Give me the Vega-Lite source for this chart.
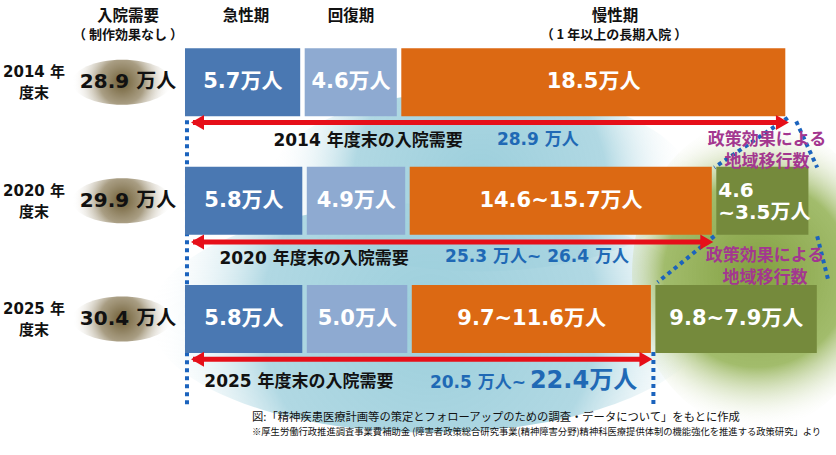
{
  "$schema": "https://vega.github.io/schema/vega-lite/v6.json",
  "width": 836,
  "height": 455,
  "autosize": {"type": "none"},
  "padding": 0,
  "background": "white",
  "config": {"view": {"stroke": null}, "text": {"font": "DejaVu Sans, Noto Sans CJK JP", "fontWeight": "bold"}},
  "datasets": {
    "bars": [
      {"year": "2014", "row": 0, "phase": "急性期", "start": 0, "end": 5.7, "label": "5.7万人"},
      {"year": "2014", "row": 0, "phase": "回復期", "start": 5.7, "end": 10.3, "label": "4.6万人"},
      {"year": "2014", "row": 0, "phase": "慢性期", "start": 10.3, "end": 28.8, "label": "18.5万人"},
      {"year": "2020", "row": 1, "phase": "急性期", "start": 0, "end": 5.8, "label": "5.8万人"},
      {"year": "2020", "row": 1, "phase": "回復期", "start": 5.8, "end": 10.7, "label": "4.9万人"},
      {"year": "2020", "row": 1, "phase": "慢性期", "start": 10.7, "end": 25.3, "label": "14.6~15.7万人"},
      {"year": "2020", "row": 1, "phase": "地域移行数", "start": 25.3, "end": 29.9, "label": "4.6\n~3.5万人"},
      {"year": "2025", "row": 2, "phase": "急性期", "start": 0, "end": 5.8, "label": "5.8万人"},
      {"year": "2025", "row": 2, "phase": "回復期", "start": 5.8, "end": 10.8, "label": "5.0万人"},
      {"year": "2025", "row": 2, "phase": "慢性期", "start": 10.8, "end": 22.4, "label": "9.7~11.6万人"},
      {"year": "2025", "row": 2, "phase": "地域移行数", "start": 22.4, "end": 30.3, "label": "9.8~7.9万人"}
    ],
    "years": [
      {"year": "2014", "row": 0, "label": "2014 年\n度末", "total": "28.9 万人"},
      {"year": "2020", "row": 1, "label": "2020 年\n度末", "total": "29.9 万人"},
      {"year": "2025", "row": 2, "label": "2025 年\n度末", "total": "30.4 万人"}
    ],
    "arrows": [
      {"year": "2014", "y": 0.34, "start": 0, "end": 28.9},
      {"year": "2020", "y": 1.35, "start": 0, "end": 25.3},
      {"year": "2025", "y": 2.34, "start": 0, "end": 22.4}
    ],
    "glows": [
      {"glow": "haze-upper", "x": 14.14, "y": 0.835},
      {"glow": "haze-lower", "x": 11.76, "y": 1.99},
      {"glow": "green", "x": 27.33, "y": 1.62}
    ],
    "dots": [
      {"seg": "left", "ord": 0, "x": 0.19, "y": 0.32},
      {"seg": "left", "ord": 1, "x": 0.19, "y": 2.72},
      {"seg": "mid", "ord": 0, "x": 22.4, "y": 2.28},
      {"seg": "mid", "ord": 1, "x": 22.4, "y": 2.72},
      {"seg": "a", "ord": 0, "x": 28.8, "y": 0.3},
      {"seg": "a", "ord": 1, "x": 25.3, "y": 0.72},
      {"seg": "b", "ord": 0, "x": 29.2, "y": 0.33},
      {"seg": "b", "ord": 1, "x": 30.2, "y": 0.72},
      {"seg": "c", "ord": 0, "x": 25.3, "y": 1.3},
      {"seg": "c", "ord": 1, "x": 22.6, "y": 1.69},
      {"seg": "d", "ord": 0, "x": 30.2, "y": 1.3},
      {"seg": "d", "ord": 1, "x": 30.75, "y": 1.69}
    ],
    "headers": [
      {"text": "入院需要", "x": -2.619, "y": -0.562, "role": "main"},
      {"text": "（ 制作効果なし ）", "x": -2.619, "y": -0.397, "role": "sub"},
      {"text": "急性期", "x": 3.0, "y": -0.562, "role": "main"},
      {"text": "回復期", "x": 8.0, "y": -0.562, "role": "main"},
      {"text": "慢性期", "x": 20.57, "y": -0.562, "role": "main"},
      {"text": "（ 1 年以上の長期入院 ）", "x": 20.52, "y": -0.397, "role": "sub"}
    ],
    "demand": [
      {"text": "2014 年度末の入院需要", "x": 8.81, "y": 0.496, "role": "caption"},
      {"text": "28.9 万人", "x": 16.9, "y": 0.488, "role": "value"},
      {"text": "2020 年度末の入院需要", "x": 6.24, "y": 1.496, "role": "caption"},
      {"text": "25.3 万人~ 26.4 万人", "x": 16.86, "y": 1.48, "role": "value"},
      {"text": "2025 年度末の入院需要", "x": 5.52, "y": 2.529, "role": "caption"},
      {"text": "20.5 万人~", "x": 11.76, "y": 2.587, "role": "valueLeft"},
      {"text": "22.4万人", "x": 16.52, "y": 2.587, "role": "valueBig"}
    ],
    "policy": [
      {"text": "政策効果による\n地域移行数", "x": 27.81, "y": 0.488},
      {"text": "政策効果による\n地域移行数", "x": 27.71, "y": 1.471}
    ],
    "footnotes": [
      {"text": "図:「精神疾患医療計画等の策定とフォローアップのための調査・データについて」をもとに作成", "x": 3.286, "y": 2.835, "role": "source"},
      {"text": "※厚生労働行政推進調査事業費補助金 (障害者政策総合研究事業(精神障害分野)精神科医療提供体制の機能強化を推進する政策研究」より", "x": 3.286, "y": 2.959, "role": "note"}
    ]
  },
  "layer": [
    {
      "data": {"name": "glows"},
      "transform": [{"filter": "datum.glow === 'haze-upper'"}],
      "mark": {"type": "point", "clip": true, "shape": "M -1 0 A 1 0.43 0 1 0 1 0 A 1 0.43 0 1 0 -1 0 Z", "size": 176400, "filled": true, "opacity": 1, "strokeWidth": 0,
        "fill": {"gradient": "radial", "x1": 0.5, "y1": 0.5, "r1": 0, "x2": 0.5, "y2": 0.5, "r2": 0.5,
          "stops": [{"offset": 0, "color": "#9ccfdc"}, {"offset": 0.6, "color": "rgba(168,212,224,0.9)"}, {"offset": 1, "color": "rgba(255,255,255,0)"}]}},
      "encoding": {
        "x": {"field": "x", "type": "quantitative", "scale": {"domain": [-8.714, 31.095], "nice": false, "zero": false}, "axis": null},
        "y": {"field": "y", "type": "quantitative", "scale": {"domain": [-0.653, 3.107], "nice": false, "zero": false, "reverse": true}, "axis": null}
      }
    },
    {
      "data": {"name": "glows"},
      "transform": [{"filter": "datum.glow === 'haze-lower'"}],
      "mark": {"type": "point", "clip": true, "shape": "M -1 0 A 1 0.41 0 1 0 1 0 A 1 0.41 0 1 0 -1 0 Z", "size": 313600, "filled": true, "opacity": 1, "strokeWidth": 0,
        "fill": {"gradient": "radial", "x1": 0.5, "y1": 0.5, "r1": 0, "x2": 0.5, "y2": 0.5, "r2": 0.5,
          "stops": [{"offset": 0, "color": "#9ccfdc"}, {"offset": 0.6, "color": "rgba(168,212,224,0.9)"}, {"offset": 1, "color": "rgba(255,255,255,0)"}]}},
      "encoding": {
        "x": {"field": "x", "type": "quantitative", "scale": {"domain": [-8.714, 31.095], "nice": false, "zero": false}, "axis": null},
        "y": {"field": "y", "type": "quantitative", "scale": {"domain": [-0.653, 3.107], "nice": false, "zero": false, "reverse": true}, "axis": null}
      }
    },
    {
      "data": {"name": "glows"},
      "transform": [{"filter": "datum.glow === 'green'"}],
      "mark": {"type": "point", "clip": true, "shape": "M -0.806 0 A 0.806 1 0 1 0 0.806 0 A 0.806 1 0 1 0 -0.806 0 Z", "size": 96100, "filled": true, "opacity": 1, "strokeWidth": 0,
        "fill": {"gradient": "radial", "x1": 0.5, "y1": 0.5, "r1": 0, "x2": 0.5, "y2": 0.5, "r2": 0.5,
          "stops": [{"offset": 0, "color": "#829f40"}, {"offset": 0.6, "color": "rgba(152,181,92,0.9)"}, {"offset": 1, "color": "rgba(255,255,255,0)"}]}},
      "encoding": {
        "x": {"field": "x", "type": "quantitative", "scale": {"domain": [-8.714, 31.095], "nice": false, "zero": false}, "axis": null},
        "y": {"field": "y", "type": "quantitative", "scale": {"domain": [-0.653, 3.107], "nice": false, "zero": false, "reverse": true}, "axis": null}
      }
    },
    {
      "data": {"name": "years"},
      "mark": {"type": "point", "clip": true, "shape": "M -1 0 A 1 0.45 0 1 0 1 0 A 1 0.45 0 1 0 -1 0 Z", "size": 10000, "filled": true, "opacity": 1, "strokeWidth": 0,
        "fill": {"gradient": "radial", "x1": 0.5, "y1": 0.5, "r1": 0, "x2": 0.5, "y2": 0.5, "r2": 0.5,
          "stops": [{"offset": 0, "color": "#6f5e35"}, {"offset": 0.45, "color": "rgba(140,125,90,0.75)"}, {"offset": 1, "color": "rgba(255,255,255,0)"}]}},
      "encoding": {
        "x": {"datum": -2.9, "type": "quantitative", "scale": {"domain": [-8.714, 31.095], "nice": false, "zero": false}, "axis": null},
        "y": {"field": "row", "type": "quantitative", "scale": {"domain": [-0.653, 3.107], "nice": false, "zero": false, "reverse": true}, "axis": null}
      }
    },
    {
      "data": {"name": "dots"},
      "mark": {"type": "line", "strokeDash": [4, 4], "strokeWidth": 4, "color": "#1b63bd", "strokeCap": "butt"},
      "encoding": {
        "x": {"field": "x", "type": "quantitative", "scale": {"domain": [-8.714, 31.095], "nice": false, "zero": false}, "axis": null},
        "y": {"field": "y", "type": "quantitative", "scale": {"domain": [-0.653, 3.107], "nice": false, "zero": false, "reverse": true}, "axis": null},
        "detail": {"field": "seg", "type": "nominal"},
        "order": {"field": "ord", "type": "quantitative"}
      }
    },
    {
      "data": {"name": "bars"},
      "mark": {"type": "bar", "size": 68, "xOffset": 2, "x2Offset": -2.5},
      "encoding": {
        "x": {"field": "start", "type": "quantitative", "scale": {"domain": [-8.714, 31.095], "nice": false, "zero": false}, "axis": null},
        "x2": {"field": "end"},
        "y": {"field": "row", "type": "quantitative", "scale": {"domain": [-0.653, 3.107], "nice": false, "zero": false, "reverse": true}, "axis": null},
        "color": {"field": "phase", "type": "nominal", "scale": {"domain": ["急性期", "回復期", "慢性期", "地域移行数"], "range": ["#4a78b2", "#8eaad1", "#dc6913", "#758a3c"]}, "legend": null}
      }
    },
    {
      "data": {"name": "bars"},
      "transform": [
        {"filter": "!(datum.year === '2020' && datum.phase === '地域移行数')"},
        {"fold": ["start", "end"], "as": ["edge", "pos"]},
        {"aggregate": [{"op": "mean", "field": "pos", "as": "mid"}], "groupby": ["year", "row", "phase", "label"]}
      ],
      "mark": {"type": "text", "color": "white", "fontSize": 21, "align": "center", "baseline": "middle"},
      "encoding": {
        "x": {"field": "mid", "type": "quantitative", "scale": {"domain": [-8.714, 31.095], "nice": false, "zero": false}, "axis": null},
        "y": {"field": "row", "type": "quantitative", "scale": {"domain": [-0.653, 3.107], "nice": false, "zero": false, "reverse": true}, "axis": null},
        "text": {"field": "label"}
      }
    },
    {
      "data": {"name": "bars"},
      "transform": [{"filter": "datum.year === '2020' && datum.phase === '地域移行数'"}],
      "mark": {"type": "text", "color": "white", "fontSize": 20, "align": "left", "baseline": "middle", "lineBreak": "\n", "lineHeight": 22, "dx": 4, "dy": -10},
      "encoding": {
        "x": {"field": "start", "type": "quantitative", "scale": {"domain": [-8.714, 31.095], "nice": false, "zero": false}, "axis": null},
        "y": {"field": "row", "type": "quantitative", "scale": {"domain": [-0.653, 3.107], "nice": false, "zero": false, "reverse": true}, "axis": null},
        "text": {"field": "label"}
      }
    },
    {
      "data": {"name": "arrows"},
      "mark": {"type": "rule", "color": "#e60f19", "strokeWidth": 5, "xOffset": 10, "x2Offset": -8},
      "encoding": {
        "x": {"field": "start", "type": "quantitative", "scale": {"domain": [-8.714, 31.095], "nice": false, "zero": false}, "axis": null},
        "x2": {"field": "end"},
        "y": {"field": "y", "type": "quantitative", "scale": {"domain": [-0.653, 3.107], "nice": false, "zero": false, "reverse": true}, "axis": null}
      }
    },
    {
      "data": {"name": "arrows"},
      "mark": {"type": "point", "shape": "triangle-left", "size": 225, "filled": true, "opacity": 1, "color": "#e60f19", "strokeWidth": 0, "xOffset": 14.5},
      "encoding": {
        "x": {"field": "start", "type": "quantitative", "scale": {"domain": [-8.714, 31.095], "nice": false, "zero": false}, "axis": null},
        "y": {"field": "y", "type": "quantitative", "scale": {"domain": [-0.653, 3.107], "nice": false, "zero": false, "reverse": true}, "axis": null}
      }
    },
    {
      "data": {"name": "arrows"},
      "mark": {"type": "point", "shape": "triangle-right", "size": 225, "filled": true, "opacity": 1, "color": "#e60f19", "strokeWidth": 0, "xOffset": -7.5},
      "encoding": {
        "x": {"field": "end", "type": "quantitative", "scale": {"domain": [-8.714, 31.095], "nice": false, "zero": false}, "axis": null},
        "y": {"field": "y", "type": "quantitative", "scale": {"domain": [-0.653, 3.107], "nice": false, "zero": false, "reverse": true}, "axis": null}
      }
    },
    {
      "data": {"name": "years"},
      "mark": {"type": "text", "color": "#111111", "fontSize": 15, "align": "center", "baseline": "middle", "lineBreak": "\n", "lineHeight": 21, "dy": -10},
      "encoding": {
        "x": {"datum": -7.095, "type": "quantitative", "scale": {"domain": [-8.714, 31.095], "nice": false, "zero": false}, "axis": null},
        "y": {"field": "row", "type": "quantitative", "scale": {"domain": [-0.653, 3.107], "nice": false, "zero": false, "reverse": true}, "axis": null},
        "text": {"field": "label"}
      }
    },
    {
      "data": {"name": "years"},
      "mark": {"type": "text", "color": "#111111", "fontSize": 20, "align": "center", "baseline": "middle"},
      "encoding": {
        "x": {"datum": -2.619, "type": "quantitative", "scale": {"domain": [-8.714, 31.095], "nice": false, "zero": false}, "axis": null},
        "y": {"field": "row", "type": "quantitative", "scale": {"domain": [-0.653, 3.107], "nice": false, "zero": false, "reverse": true}, "axis": null},
        "text": {"field": "total"}
      }
    },
    {
      "data": {"name": "headers"},
      "transform": [{"filter": "datum.role === 'main'"}],
      "mark": {"type": "text", "color": "#111111", "fontSize": 15.5, "font": "Noto Sans CJK JP", "align": "center", "baseline": "middle"},
      "encoding": {
        "x": {"field": "x", "type": "quantitative", "scale": {"domain": [-8.714, 31.095], "nice": false, "zero": false}, "axis": null},
        "y": {"field": "y", "type": "quantitative", "scale": {"domain": [-0.653, 3.107], "nice": false, "zero": false, "reverse": true}, "axis": null},
        "text": {"field": "text"}
      }
    },
    {
      "data": {"name": "headers"},
      "transform": [{"filter": "datum.role === 'sub'"}],
      "mark": {"type": "text", "color": "#111111", "fontSize": 13, "font": "Noto Sans CJK JP", "align": "center", "baseline": "middle"},
      "encoding": {
        "x": {"field": "x", "type": "quantitative", "scale": {"domain": [-8.714, 31.095], "nice": false, "zero": false}, "axis": null},
        "y": {"field": "y", "type": "quantitative", "scale": {"domain": [-0.653, 3.107], "nice": false, "zero": false, "reverse": true}, "axis": null},
        "text": {"field": "text"}
      }
    },
    {
      "data": {"name": "demand"},
      "transform": [{"filter": "datum.role === 'caption'"}],
      "mark": {"type": "text", "color": "#111111", "fontSize": 17, "align": "center", "baseline": "middle"},
      "encoding": {
        "x": {"field": "x", "type": "quantitative", "scale": {"domain": [-8.714, 31.095], "nice": false, "zero": false}, "axis": null},
        "y": {"field": "y", "type": "quantitative", "scale": {"domain": [-0.653, 3.107], "nice": false, "zero": false, "reverse": true}, "axis": null},
        "text": {"field": "text"}
      }
    },
    {
      "data": {"name": "demand"},
      "transform": [{"filter": "datum.role === 'value'"}],
      "mark": {"type": "text", "color": "#1f69b5", "fontSize": 17, "align": "center", "baseline": "middle"},
      "encoding": {
        "x": {"field": "x", "type": "quantitative", "scale": {"domain": [-8.714, 31.095], "nice": false, "zero": false}, "axis": null},
        "y": {"field": "y", "type": "quantitative", "scale": {"domain": [-0.653, 3.107], "nice": false, "zero": false, "reverse": true}, "axis": null},
        "text": {"field": "text"}
      }
    },
    {
      "data": {"name": "demand"},
      "transform": [{"filter": "datum.role === 'valueLeft'"}],
      "mark": {"type": "text", "color": "#1f69b5", "fontSize": 17, "align": "left", "baseline": "alphabetic"},
      "encoding": {
        "x": {"field": "x", "type": "quantitative", "scale": {"domain": [-8.714, 31.095], "nice": false, "zero": false}, "axis": null},
        "y": {"field": "y", "type": "quantitative", "scale": {"domain": [-0.653, 3.107], "nice": false, "zero": false, "reverse": true}, "axis": null},
        "text": {"field": "text"}
      }
    },
    {
      "data": {"name": "demand"},
      "transform": [{"filter": "datum.role === 'valueBig'"}],
      "mark": {"type": "text", "color": "#1f69b5", "fontSize": 24, "align": "left", "baseline": "alphabetic"},
      "encoding": {
        "x": {"field": "x", "type": "quantitative", "scale": {"domain": [-8.714, 31.095], "nice": false, "zero": false}, "axis": null},
        "y": {"field": "y", "type": "quantitative", "scale": {"domain": [-0.653, 3.107], "nice": false, "zero": false, "reverse": true}, "axis": null},
        "text": {"field": "text"}
      }
    },
    {
      "data": {"name": "policy"},
      "mark": {"type": "text", "color": "#a3378f", "fontSize": 17, "font": "Noto Sans CJK JP", "align": "center", "baseline": "middle", "lineBreak": "\n", "lineHeight": 22},
      "encoding": {
        "x": {"field": "x", "type": "quantitative", "scale": {"domain": [-8.714, 31.095], "nice": false, "zero": false}, "axis": null},
        "y": {"field": "y", "type": "quantitative", "scale": {"domain": [-0.653, 3.107], "nice": false, "zero": false, "reverse": true}, "axis": null},
        "text": {"field": "text"}
      }
    },
    {
      "data": {"name": "footnotes"},
      "transform": [{"filter": "datum.role === 'source'"}],
      "mark": {"type": "text", "color": "#111111", "fontSize": 11.3, "fontWeight": "normal", "font": "Noto Sans CJK JP", "align": "left", "baseline": "middle"},
      "encoding": {
        "x": {"field": "x", "type": "quantitative", "scale": {"domain": [-8.714, 31.095], "nice": false, "zero": false}, "axis": null},
        "y": {"field": "y", "type": "quantitative", "scale": {"domain": [-0.653, 3.107], "nice": false, "zero": false, "reverse": true}, "axis": null},
        "text": {"field": "text"}
      }
    },
    {
      "data": {"name": "footnotes"},
      "transform": [{"filter": "datum.role === 'note'"}],
      "mark": {"type": "text", "color": "#111111", "fontSize": 9.3, "fontWeight": "normal", "font": "Noto Sans CJK JP", "align": "left", "baseline": "middle"},
      "encoding": {
        "x": {"field": "x", "type": "quantitative", "scale": {"domain": [-8.714, 31.095], "nice": false, "zero": false}, "axis": null},
        "y": {"field": "y", "type": "quantitative", "scale": {"domain": [-0.653, 3.107], "nice": false, "zero": false, "reverse": true}, "axis": null},
        "text": {"field": "text"}
      }
    }
  ]
}
